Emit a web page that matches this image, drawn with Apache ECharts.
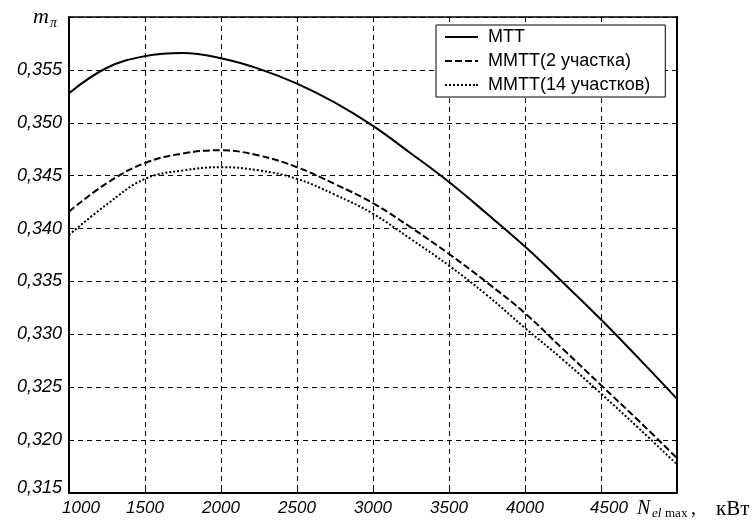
<!DOCTYPE html>
<html><head><meta charset="utf-8">
<script src="https://cdn.jsdelivr.net/npm/echarts@6/dist/echarts.min.js"></script>
<style>html,body{margin:0;padding:0;background:#fff}#c{width:756px;height:523px}</style>
</head><body><div id="c"></div>
<script>
var xValues = [1000,1250,1500,1750,2000,2250,2500,2750,3000,3250,3500,3750,4000,4250,4500,4750,5000];
var mtt   = [0.3528,0.3552,0.3563,0.3566,0.3561,0.3551,0.3537,0.3519,0.3497,0.3471,0.3444,0.3414,0.3383,0.3349,0.3314,0.3277,0.3239];
var mmtt2 = [0.3416,0.3443,0.3462,0.3471,0.3474,0.3469,0.3458,0.3442,0.3424,0.3401,0.3376,0.3349,0.3320,0.3286,0.3252,0.3218,0.3183];
var mmtt14= [0.3394,0.3423,0.3447,0.3455,0.3458,0.3455,0.3447,0.3432,0.3414,0.3390,0.3365,0.3337,0.3306,0.3276,0.3244,0.3211,0.3177];
var seriesNames = ['МТТ','ММТТ(2 участка)','ММТТ(14 участков)'];
var xTicks = [1000,1500,2000,2500,3000,3500,4000,4500];
var yTicks = [0.315,0.320,0.325,0.330,0.335,0.340,0.345,0.350,0.355];

function pairs(arr){ return xValues.map(function(x,i){ return [x, arr[i]]; }); }
var xFont = {fontFamily:'Liberation Sans, Arial, sans-serif', fontSize:17, fontStyle:'italic', color:'#000'};
var yFont = {fontFamily:'Liberation Sans, Arial, sans-serif', fontSize:18, fontStyle:'italic', color:'#000'};
var iconSolid  = 'path://M0,0H33V2H0Z';
var iconDashed = 'path://M0,0H7V2H0Z M10,0H17V2H10Z M20,0H27V2H20Z M30,0H33V2H30Z';
var iconDotted = 'path://M0,0H2V2H0Z M4,0H6V2H4Z M8,0H10V2H8Z M12,0H14V2H12Z M16,0H18V2H16Z M20,0H22V2H20Z M24,0H26V2H24Z M28,0H30V2H28Z M31,0H33V2H31Z';
var chart = echarts.init(document.getElementById('c'), null, {renderer:'canvas'});
var gridLine = {show:true, lineStyle:{color:'#000', width:1, type:[5,4]}};
chart.setOption({
  animation:false,
  backgroundColor:'#fff',
  grid:{left:69, right:79, top:17, bottom:30, containLabel:false},
  legend:{
    orient:'vertical', left:436, top:25,
    backgroundColor:'#fff', borderColor:'#000', borderWidth:1,
    padding:[2,15,2,9], itemGap:4, itemWidth:33, itemHeight:2,
    textStyle:{fontFamily:'Liberation Sans, Arial, sans-serif', fontSize:18, color:'#000', lineHeight:20, padding:[0,0,0,5]},
    data:[
      {name:seriesNames[0], icon:iconSolid, itemStyle:{color:'#000'}},
      {name:seriesNames[1], icon:iconDashed, itemStyle:{color:'#000'}},
      {name:seriesNames[2], icon:iconDotted, itemStyle:{color:'#000'}}
    ]
  },
  xAxis:[{
    type:'value', min:1000, max:5000, interval:500,
    axisLine:{show:true, lineStyle:{color:'#000', width:2}},
    axisTick:{show:true, inside:true, length:5, lineStyle:{color:'#000', width:1}},
    splitLine:gridLine,
    axisLabel:Object.assign({margin:7, formatter:function(v){
      if (xTicks.indexOf(v) < 0) return '';
      if (v === 1000) return '{a|' + v + '}';
      if (v === 4500) return '{b|' + v + '}';
      return String(v);
    }, rich:{
      a:Object.assign({padding:[0,0,0,24]}, xFont),
      b:Object.assign({padding:[0,0,0,16]}, xFont)
    }}, xFont)
  },{
    type:'value', min:1000, max:5000, interval:500, position:'top',
    axisLine:{show:true, lineStyle:{color:'#000', width:1.5}},
    axisTick:{show:true, inside:true, length:5, lineStyle:{color:'#000'}},
    axisLabel:{show:false}, splitLine:{show:false}
  }],
  yAxis:[{
    type:'value', min:0.315, max:0.360, interval:0.005,
    axisLine:{show:true, lineStyle:{color:'#000', width:2}},
    axisTick:{show:true, inside:true, length:5, lineStyle:{color:'#000'}},
    splitLine:gridLine,
    axisLabel:Object.assign({margin:7, formatter:function(v){
      var r = Math.round(v*1000)/1000;
      var idx = -1;
      for (var i=0;i<yTicks.length;i++){ if (Math.abs(yTicks[i]-r)<1e-6) idx=i; }
      if (idx < 0) return '';
      var s = yTicks[idx].toFixed(3).replace('.', ',');
      if (idx === 0) return '{a|' + s + '}';
      return s;
    }, rich:{ a:Object.assign({padding:[0,0,10,0]}, yFont) }}, yFont)
  },{
    type:'value', min:0.315, max:0.360, interval:0.005, position:'right',
    axisLine:{show:true, lineStyle:{color:'#000', width:2}},
    axisTick:{show:true, inside:true, length:5, lineStyle:{color:'#000'}},
    axisLabel:{show:false}, splitLine:{show:false}
  }],
  series:[
    {name:seriesNames[0], type:'line', data:pairs(mtt), smooth:0.4, symbol:'none',
     lineStyle:{color:'#000', width:2, type:'solid'}, itemStyle:{color:'#000'}},
    {name:seriesNames[1], type:'line', data:pairs(mmtt2), smooth:0.4, symbol:'none',
     lineStyle:{color:'#000', width:2, type:[7,3]}, itemStyle:{color:'#000'}},
    {name:seriesNames[2], type:'line', data:pairs(mmtt14), smooth:0.4, symbol:'none',
     lineStyle:{color:'#000', width:2, type:[2,2]}, itemStyle:{color:'#000'}}
  ],
  graphic:[
    {type:'text', x:33, y:17, style:{text:'m', font:'italic 22px "Liberation Serif", "Times New Roman", serif', fill:'#000', verticalAlign:'middle'}},
    {type:'text', x:50, y:23, style:{text:'π', font:'italic 14px "Liberation Serif", "Times New Roman", serif', fill:'#000', verticalAlign:'middle'}},
    {type:'text', x:637, y:509, style:{text:'N', font:'italic 20px "Liberation Serif", "Times New Roman", serif', fill:'#000', verticalAlign:'middle'}},
    {type:'text', x:652, y:514, style:{text:'el', font:'italic 13px "Liberation Serif", "Times New Roman", serif', fill:'#000', verticalAlign:'middle'}},
    {type:'text', x:665, y:514, style:{text:'max', font:'13px "Liberation Serif", "Times New Roman", serif', fill:'#000', verticalAlign:'middle'}},
    {type:'text', x:691, y:509, style:{text:',', font:'20px "Liberation Serif", "Times New Roman", serif', fill:'#000', verticalAlign:'middle'}},
    {type:'text', x:716, y:509, style:{text:'кВт', font:'21px "Liberation Serif", "Times New Roman", serif', fill:'#000', verticalAlign:'middle'}}
  ]
});
</script></body></html>
